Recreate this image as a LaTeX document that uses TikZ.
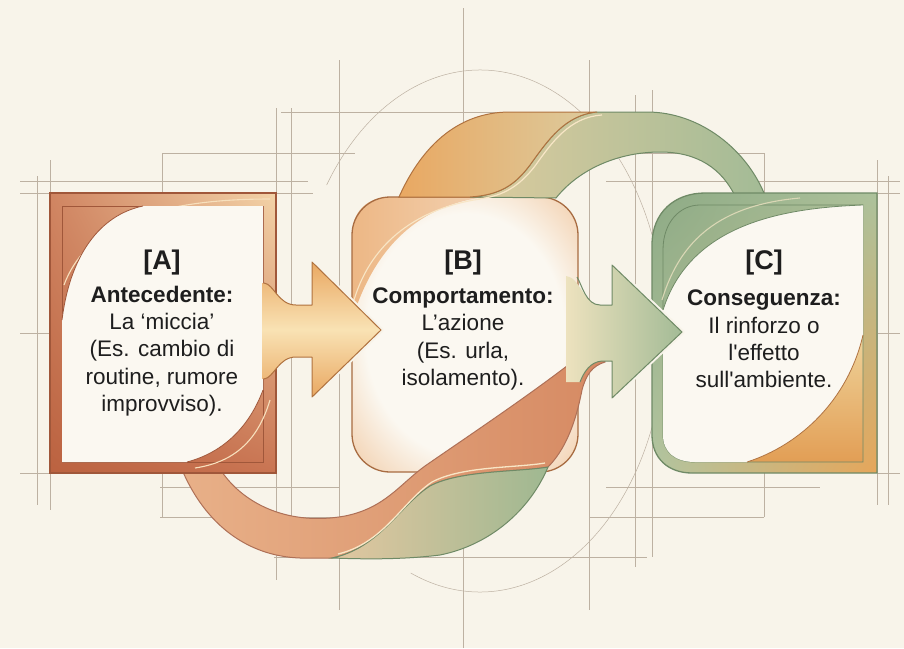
\documentclass[tikz,border=0pt]{standalone}
\usepackage{fontspec}
\setmainfont{Liberation Sans}
\usetikzlibrary{shadings}
\definecolor{bgc}{HTML}{F8F4EA}
\definecolor{gridc}{HTML}{BDB1A2}
\definecolor{leafc}{HTML}{FBF8F1}
\definecolor{aUL}{HTML}{D08562}
\definecolor{aUR}{HTML}{F3D3A8}
\definecolor{aLL}{HTML}{BB6240}
\definecolor{aLR}{HTML}{C97452}
\definecolor{aedge}{HTML}{A0573A}
\definecolor{bedge}{HTML}{A86C42}
\definecolor{bout}{HTML}{EDB887}
\definecolor{oA}{HTML}{E9A862}
\definecolor{oB}{HTML}{F9E2B4}
\definecolor{oedge}{HTML}{B0723F}
\definecolor{tanc}{HTML}{DCCB9E}
\definecolor{bandL}{HTML}{E8B088}
\definecolor{bandR}{HTML}{D68A63}
\definecolor{grL}{HTML}{E2C7A0}
\definecolor{grR}{HTML}{9FB891}
\definecolor{gedge}{HTML}{6F8A66}
\definecolor{gA}{HTML}{A3BB96}
\definecolor{gB}{HTML}{EDE2BE}
\definecolor{cUL}{HTML}{8DAA85}
\definecolor{cUR}{HTML}{ADC29C}
\definecolor{cLL}{HTML}{B3C5A0}
\definecolor{cLR}{HTML}{E6A65A}
\definecolor{cor1}{HTML}{EFD39A}
\definecolor{cor2}{HTML}{E29E55}
\definecolor{hl}{HTML}{F8E6C6}
\definecolor{txt}{HTML}{1E1E1E}
\pgfdeclareradialshading{bglow}{\pgfpointorigin}{color(0bp)=(leafc); color(22bp)=(leafc); color(42bp)=(bout); color(75bp)=(bout)}
\begin{document}
\begin{tikzpicture}[x=1pt,y=-1pt,
  gridline/.style={draw=gridc, line width=0.55pt},
  halo/.style={draw=bgc, line width=5pt, line join=round},
  titletext/.style={text=txt, font=\fontsize{27}{30}\selectfont\bfseries, inner sep=0pt},
  bodytext/.style={text=txt, font=\fontsize{22.5}{27.2}\selectfont, align=center, inner sep=0pt}]
\fill[bgc] (0,0) rectangle (904,648);
\useasboundingbox (0,0) rectangle (904,648);
% construction lines
\draw[gridline] (20,181) -- (308,181);
\draw[gridline] (20,193) -- (50,193) (276,193) -- (313,193);
\draw[gridline] (20,333) -- (75,333);
\draw[gridline] (20,473) -- (50,473);
\draw[gridline] (37,176) -- (37,505);
\draw[gridline] (50,160) -- (50,510);
\draw[gridline] (162,153) -- (355,153);
\draw[gridline] (162,153) -- (162,517);
\draw[gridline] (160,487) -- (340,487);
\draw[gridline] (160,517) -- (367,517);
\draw[gridline] (281,112) -- (660,112);
\draw[gridline] (276,108) -- (276,580);
\draw[gridline] (291,108) -- (291,517);
\draw[gridline] (339,60) -- (339,610);
\draw[gridline] (463,8) -- (463,648);
\draw[gridline] (589,60) -- (589,610);
\draw[gridline] (635,95) -- (635,567);
\draw[gridline] (652,90) -- (652,557);
\draw[gridline] (565,153) -- (764,153);
\draw[gridline] (764,153) -- (764,517);
\draw[gridline] (606,181) -- (900,181);
\draw[gridline] (274,557) -- (647,557);
\draw[gridline] (606,487) -- (820,487);
\draw[gridline] (589,517) -- (764,517);
\draw[gridline] (877,160) -- (877,505);
\draw[gridline] (888,176) -- (888,505);
\draw[gridline] (877,193) -- (900,193) (853,333) -- (900,333) (877,473) -- (900,473);
\draw[gridline, line width=0.5pt] (480,331) ++(-146:185 and 261)
  arc[start angle=-146, end angle=112, x radius=185, y radius=261];
% box B
\path[shading=bglow, rounded corners=38pt] (352,197) rectangle (578,472);
\shade[left color=bout!95!oA, right color=bout!60!leafc]
  (352,320) -- (352,235) .. controls (352,212) and (367,197) .. (390,197) -- (485,197)
  .. controls (430,204) and (378,235) .. (352,320) -- cycle;
\draw[hl, line width=1.1pt] (354,300) .. controls (372,240) and (420,208) .. (480,199);
\draw[bedge, line width=1.3pt, rounded corners=38pt] (352,197) rectangle (578,472);
% bottom band
\draw[aedge!85, line width=1pt, left color=bandL, right color=bandR]
  (183,472) .. controls (205,522) and (245,556) .. (300,558) -- (332,558)
  .. controls (380,548) and (400,505) .. (430,486)
  .. controls (460,470) and (520,472) .. (548,467)
  .. controls (570,445) and (578,410) .. (582,390)
  .. controls (586,375) and (592,366) .. (605,362) -- (600,340)
  .. controls (545,385) and (480,428) .. (425,466)
  .. controls (400,484) and (385,508) .. (345,516)
  .. controls (290,526) and (245,505) .. (222,472) -- cycle;
\draw[gedge, line width=1pt, left color=grL, right color=grR]
  (332,558) .. controls (380,548) and (400,505) .. (430,486)
  .. controls (460,470) and (520,472) .. (548,467)
  .. controls (530,510) and (490,545) .. (440,555)
  .. controls (400,560) and (360,559) .. (332,558) -- cycle;
\draw[hl, line width=1.3pt] (338,554) .. controls (384,543) and (402,502) .. (432,482)
  .. controls (462,466) and (515,468) .. (545,463);
% box A
\shade[upper left=aUL, upper right=aUR, lower left=aLL, lower right=aLR] (50,193) rectangle (276,473);
\draw[aedge, line width=1.4pt] (50,193) rectangle (276,473);
\draw[aedge, line width=0.8pt] (62,206) rectangle (263,462);
\draw[hl!70!aUR, line width=1.1pt] (64,285) .. controls (85,228) and (150,199) .. (270,199);
\draw[hl!70!aUR, line width=1.1pt] (270,400) .. controls (258,440) and (235,462) .. (195,468);
\fill[leafc] (143,206) -- (263,206) -- (263,390) .. controls (250,425) and (225,452) .. (187,462)
  -- (62,462) -- (62,320) .. controls (70,255) and (100,215) .. (143,206) -- cycle;
\draw[aedge, line width=0.8pt] (263,390) .. controls (250,425) and (225,452) .. (187,462);
\draw[aedge, line width=0.8pt] (62,320) .. controls (70,255) and (100,215) .. (143,206);
% arrow A -> B
\draw[halo] (312,305) -- (312,262) -- (381,330) -- (312,397) -- (312,357);
\shade[top color=oA, bottom color=oA, middle color=oB]
  (262,283) .. controls (274,284) and (278,305) .. (296,305) -- (312,305) -- (312,262)
  -- (381,330) -- (312,397) -- (312,357) -- (296,357)
  .. controls (278,357) and (274,378) .. (262,379) -- cycle;
\draw[oedge, line width=1pt, line join=round]
  (264,283) .. controls (274,284) and (278,305) .. (296,305) -- (312,305) -- (312,262)
  -- (381,330) -- (312,397) -- (312,357) -- (296,357)
  .. controls (278,357) and (274,378) .. (264,379);
% top band
\draw[gedge, line width=1pt, left color=tanc, right color=gA]
  (597,112) -- (647,112) .. controls (700,112) and (748,150) .. (766,198) -- (736,198)
  .. controls (722,168) and (697,152) .. (660,152)
  .. controls (620,152) and (580,168) .. (556,198) -- (470,197)
  .. controls (500,195) and (515,185) .. (530,165)
  .. controls (548,140) and (565,115) .. (597,112) -- cycle;
\draw[oedge, line width=1pt, left color=oA, right color=tanc]
  (399,197) .. controls (420,150) and (455,112) .. (510,112) -- (597,112)
  .. controls (565,115) and (548,140) .. (530,165)
  .. controls (515,185) and (500,195) .. (470,197) -- cycle;
\draw[hl, line width=1.2pt] (478,199) .. controls (505,196) and (520,185) .. (535,166)
  .. controls (552,142) and (570,117) .. (602,115);
% box C
\shade[upper left=cUL, upper right=cUR, lower left=cLL, lower right=cLR]
  (705,193) -- (877,193) -- (877,473) -- (692,473) .. controls (668,473) and (652,458) .. (652,435)
  -- (652,245) .. controls (652,212) and (675,193) .. (705,193) -- cycle;
\shade[top color=cor1, bottom color=cor2]
  (863,335) -- (863,462) -- (747,462) .. controls (800,445) and (848,400) .. (863,335) -- cycle;
\draw[gedge, line width=0.8pt]
  (700,205) -- (863,205) -- (863,462) -- (695,462) .. controls (675,462) and (663,452) .. (663,435)
  -- (663,250) .. controls (663,222) and (680,205) .. (700,205) -- cycle;
\draw[hl!60!cUR, line width=1.1pt] (662,300) .. controls (680,240) and (720,205) .. (800,198);
\fill[leafc] (863,205) .. controls (780,208) and (690,225) .. (663,310) -- (663,435)
  .. controls (663,452) and (675,462) .. (695,462) -- (747,462)
  .. controls (800,445) and (848,400) .. (863,335) -- cycle;
\draw[gedge, line width=0.8pt] (863,205) .. controls (780,208) and (690,225) .. (663,310);
\draw[oedge, line width=0.8pt] (747,462) .. controls (800,445) and (848,400) .. (863,335);
\draw[gedge, line width=1.3pt]
  (705,193) -- (877,193) -- (877,473) -- (692,473) .. controls (668,473) and (652,458) .. (652,435)
  -- (652,245) .. controls (652,212) and (675,193) .. (705,193) -- cycle;
% arrow B -> C
\draw[halo] (612,305) -- (612,265) -- (682,332) -- (612,398) -- (612,361);
\shade[left color=gB, right color=gA]
  (566,276) .. controls (580,277) and (584,305) .. (600,305) -- (612,305) -- (612,265)
  -- (682,332) -- (612,398) -- (612,361) -- (602,361)
  .. controls (590,362) and (584,372) .. (580,382) -- (566,382) -- cycle;
\draw[gedge, line width=1pt, line join=round]
  (577,277) .. controls (582,285) and (586,305) .. (600,305) -- (612,305) -- (612,265)
  -- (682,332) -- (612,398) -- (612,361) -- (602,361)
  .. controls (590,362) and (584,372) .. (580,382);
% texts
\node[titletext] (tA) at (162,263) {[A]};
\node[bodytext] (bA) at (162,351) {\textbf{Antecedente:}\\La ‘miccia’\\(Es. cambio di\\routine, rumore\\improvviso).};
\node[titletext] (tB) at (463,263) {[B]};
\node[bodytext] (bB) at (463,339) {\textbf{Comportamento:}\\L’azione\\(Es. urla,\\isolamento).};
\node[titletext] (tC) at (764,263) {[C]};
\node[bodytext] (bC) at (764,339) {\textbf{Conseguenza:}\\Il rinforzo o\\l\textquotesingle effetto\\sull\textquotesingle ambiente.};
\end{tikzpicture}
\end{document}
